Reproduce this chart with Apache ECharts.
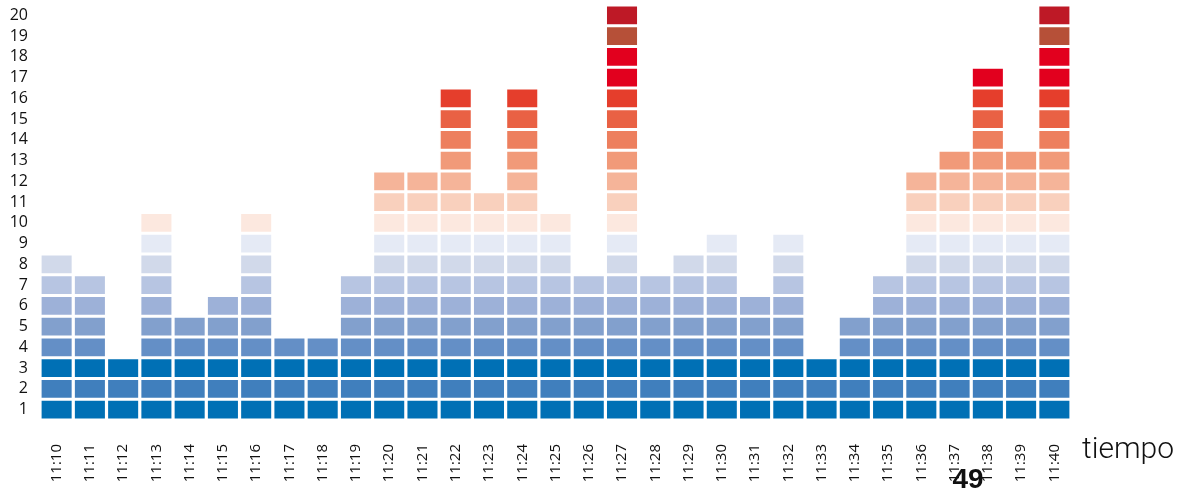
<!DOCTYPE html>
<html><head><meta charset="utf-8">
<script src="https://cdn.jsdelivr.net/npm/echarts@6/dist/echarts.min.js"></script>
<style>html,body{margin:0;padding:0;background:#fff}#c{width:1184px;height:490px}</style>
</head><body><div id="c"></div>
<script>
const categories = ['11:10','11:11','11:12','11:13','11:14','11:15','11:16','11:17','11:18','11:19','11:20','11:21','11:22','11:23','11:24','11:25','11:26','11:27','11:28','11:29','11:30','11:31','11:32','11:33','11:34','11:35','11:36','11:37','11:38','11:39','11:40'];
const counts = [8,7,3,10,5,6,10,4,4,7,12,12,16,11,16,10,7,20,7,8,9,6,9,3,5,7,12,13,17,13,20];
const levelLabels = ['1','2','3','4','5','6','7','8','9','10','11','12','13','14','15','16','17','18','19','20'];
const levelColors = ['#0070b5','#407fbd','#0070b5','#648fc6','#82a0cd','#9db1d8','#b7c5e2','#d1d9ea','#e5eaf5','#fce8df','#f9d0bd','#f5b499','#f19a79','#ed7f5e','#e96144','#e53e2c','#e2001e','#e2001e','#b65038','#be1926'];
const axisName = 'tiempo';
const overlayText = '49';

const series = levelLabels.map((lab, i) => ({
  type: 'bar', stack: 'u', name: lab, yAxisIndex: 0,
  barCategoryGap: '0%',
  itemStyle: { color: levelColors[i], borderColor: '#fff', borderWidth: 1.6 },
  data: counts.map(c => c >= i + 1 ? 1 : '-'),
  animation: false
}));

const chart = echarts.init(document.getElementById('c'));
chart.setOption({
  animation: false,
  grid: { left: 40, right: 113, top: 5, bottom: 70 },
  xAxis: {
    type: 'category', data: categories,
    axisLine: { show: false }, axisTick: { show: false },
    axisLabel: { rotate: 90, interval: 0, margin: 24, fontSize: 15, color: '#111', fontFamily: 'Open Sans' }
  },
  yAxis: [
    { type: 'value', min: 0, max: 20, interval: 1, show: false },
    { type: 'category', data: levelLabels, position: 'left',
      axisLine: { show: false }, axisTick: { show: false }, splitLine: { show: false },
      axisLabel: { interval: 0, fontSize: 16, color: '#111', margin: 12, fontFamily: 'Open Sans' } }
  ],
  series: series,
  graphic: [
    { type: 'text', left: 1082, top: 435, style: { text: axisName, font: '300 30px Roboto', fill: '#111' } },
    { type: 'text', x: 968, y: 466, style: { text: overlayText, font: 'bold 28px "Liberation Sans"', fill: '#111', textAlign: 'center', textVerticalAlign: 'top' } }
  ]
});
</script></body></html>
